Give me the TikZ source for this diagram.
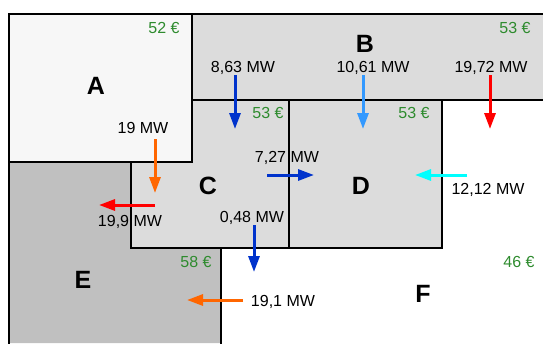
\documentclass[tikz,border=0pt]{standalone}
\usepackage{fontspec}
\setmainfont{Liberation Sans}
\usetikzlibrary{arrows.meta}
\definecolor{zoneA}{HTML}{F7F7F7}
\definecolor{zoneB}{HTML}{DCDCDC}
\definecolor{zoneE}{HTML}{C0C0C0}
\definecolor{pricegreen}{HTML}{2E8B2E}
\definecolor{dblue}{HTML}{0033CC}
\definecolor{lblue}{HTML}{3399FF}
\definecolor{orng}{HTML}{FF6600}
\definecolor{cyn}{HTML}{00FFFF}
\definecolor{rd}{HTML}{FF0000}
\begin{document}
\begin{tikzpicture}[x=1pt,y=-1pt,
  zone/.style={draw=black,line width=2pt,line cap=rect},
  zlabel/.style={font=\fontsize{25}{25}\selectfont\bfseries,inner sep=0pt,text height=18pt,text depth=0pt},
  pricelbl/.style={text=pricegreen,font=\fontsize{16}{16}\selectfont,inner sep=0pt,text height=11.5pt,text depth=0pt},
  flow/.style={font=\fontsize{16}{16}\selectfont,inner sep=0pt,text height=11.5pt,text depth=0pt},
  arr/.style={line width=3pt,-{Triangle[length=16pt,width=11pt]}}]
\useasboundingbox (0,0) rectangle (543,343);
% fills
\fill[zoneA] (9,14) rectangle (192,162);
\fill[zoneB] (192,14) rectangle (543,100);
\fill[zoneB] (192,100) -- (289,100) -- (289,248) -- (131,248) -- (131,162) -- (192,162) -- cycle;
\fill[zoneB] (289,100) rectangle (442,248);
\fill[zoneE] (9,162) -- (131,162) -- (131,248) -- (221,248) -- (221,343) -- (9,343) -- cycle;
% borders
\draw[zone] (9,343) -- (9,14) -- (543,14);
\draw[zone] (192,14) -- (192,162);
\draw[zone] (9,162) -- (192,162);
\draw[zone] (192,100) -- (543,100);
\draw[zone] (131,162) -- (131,248) -- (442,248) -- (442,100);
\draw[zone] (289,100) -- (289,248);
\draw[zone] (221,248) -- (221,343);
% zone names
\node[zlabel] (A) at (96,85) {A};
\node[zlabel] (B) at (365,43) {B};
\node[zlabel] (C) at (208,185) {C};
\node[zlabel] (D) at (361,185) {D};
\node[zlabel] (E) at (83,279) {E};
\node[zlabel] (F) at (423,293) {F};
% prices
\node[pricelbl] (pA) at (164,28) {52 €};
\node[pricelbl] (pB) at (515,28) {53 €};
\node[pricelbl] (pC) at (268,113) {53 €};
\node[pricelbl] (pD) at (414,113) {53 €};
\node[pricelbl] (pE) at (196,262) {58 €};
\node[pricelbl] (pF) at (519,262) {46 €};
% flows
\node[flow] (l1) at (243,67) {8,63 MW};
\node[flow] (l2) at (373,67) {10,61 MW};
\node[flow] (l3) at (491,67) {19,72 MW};
\node[flow] (l4) at (143,128) {19 MW};
\node[flow] (l5) at (130,221) {19,9 MW};
\node[flow] (l6) at (287,157) {7,27 MW};
\node[flow] (l7) at (488,189) {12,12 MW};
\node[flow] (l8) at (252,217) {0,48 MW};
\node[flow] (l9) at (283,301) {19,1 MW};
\coordinate (a1s) at (235,75);  \coordinate (a1e) at (235,129);
\coordinate (a2s) at (363,75);  \coordinate (a2e) at (363,129);
\coordinate (a3s) at (490,75);  \coordinate (a3e) at (490,129);
\coordinate (a4s) at (155,139); \coordinate (a4e) at (155,193);
\coordinate (a5s) at (155,205); \coordinate (a5e) at (99,205);
\coordinate (a6s) at (267,175); \coordinate (a6e) at (314,175);
\coordinate (a7s) at (467,175); \coordinate (a7e) at (415,175);
\coordinate (a8s) at (254,225); \coordinate (a8e) at (254,272);
\coordinate (a9s) at (243,300); \coordinate (a9e) at (187,300);
\draw[arr,dblue] (a1s) -- (a1e);
\draw[arr,lblue] (a2s) -- (a2e);
\draw[arr,rd] (a3s) -- (a3e);
\draw[arr,orng] (a4s) -- (a4e);
\draw[arr,rd] (a5s) -- (a5e);
\draw[arr,dblue] (a6s) -- (a6e);
\draw[arr,cyn] (a7s) -- (a7e);
\draw[arr,dblue] (a8s) -- (a8e);
\draw[arr,orng] (a9s) -- (a9e);
\end{tikzpicture}
\end{document}
